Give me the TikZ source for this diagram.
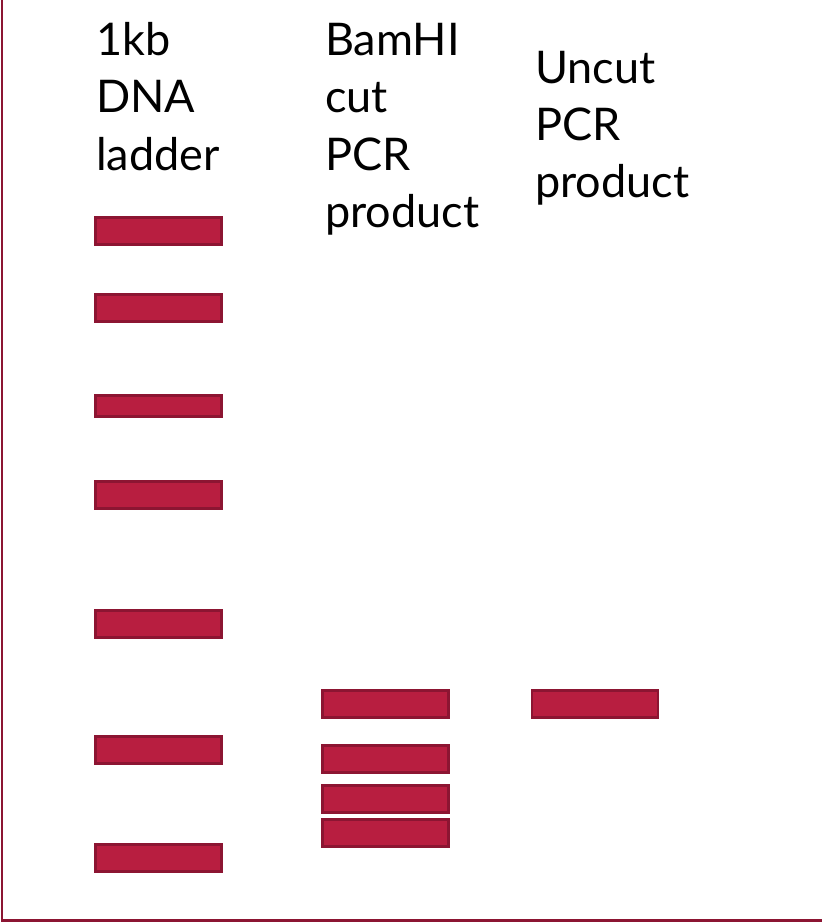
\documentclass[tikz,border=0pt]{standalone}
\usepackage{fontspec}
\setmainfont{Lato}
\definecolor{bandfill}{HTML}{B81E40}
\definecolor{bandline}{HTML}{8C1532}
\begin{document}
\begin{tikzpicture}[x=1pt,y=-1pt,
  band/.style={draw=bandline,fill=bandfill,line width=2.6pt,inner sep=0pt,
    minimum width=126pt,minimum height=27pt},
  thinband/.style={band,minimum height=21pt},
  lbl/.style={anchor=base west,inner sep=0pt,font=\fontsize{45}{57.5}\selectfont},
  frame/.style={draw=bandline,line width=2.6pt}]
\useasboundingbox (0,0) rectangle (822,924);
\clip (0,0) rectangle (822,924);
\fill[white] (0,0) rectangle (822,924);
\draw[frame] (2,-1.6) rectangle (822.9,920.6);
% labels
\node[lbl] (a1) at (96,55) {1kb};
\node[lbl] (a2) at (96,112.5) {DNA};
\node[lbl] (a3) at (96,170) {ladder};
\node[lbl] (b1) at (325,55) {BamHI};
\node[lbl] (b2) at (325,112.5) {cut};
\node[lbl] (b3) at (325,170) {PCR};
\node[lbl] (b4) at (325,227.5) {product};
\node[lbl] (c1) at (535,83) {Uncut};
\node[lbl] (c2) at (535,140) {PCR};
\node[lbl] (c3) at (535,197) {product};
% ladder
\node[band] (l1) at (158.5,231) {};
\node[band] (l2) at (158.5,308) {};
\node[thinband] (l3) at (158.5,406) {};
\node[band] (l4) at (158.5,495) {};
\node[band] (l5) at (158.5,624) {};
\node[band] (l6) at (158.5,750) {};
\node[band] (l7) at (158.5,858) {};
% BamHI cut
\node[band] (m1) at (385.5,704) {};
\node[band] (m2) at (385.5,759) {};
\node[band] (m3) at (385.5,799) {};
\node[band] (m4) at (385.5,833) {};
% uncut
\node[band] (u1) at (595,704) {};
\end{tikzpicture}
\end{document}
